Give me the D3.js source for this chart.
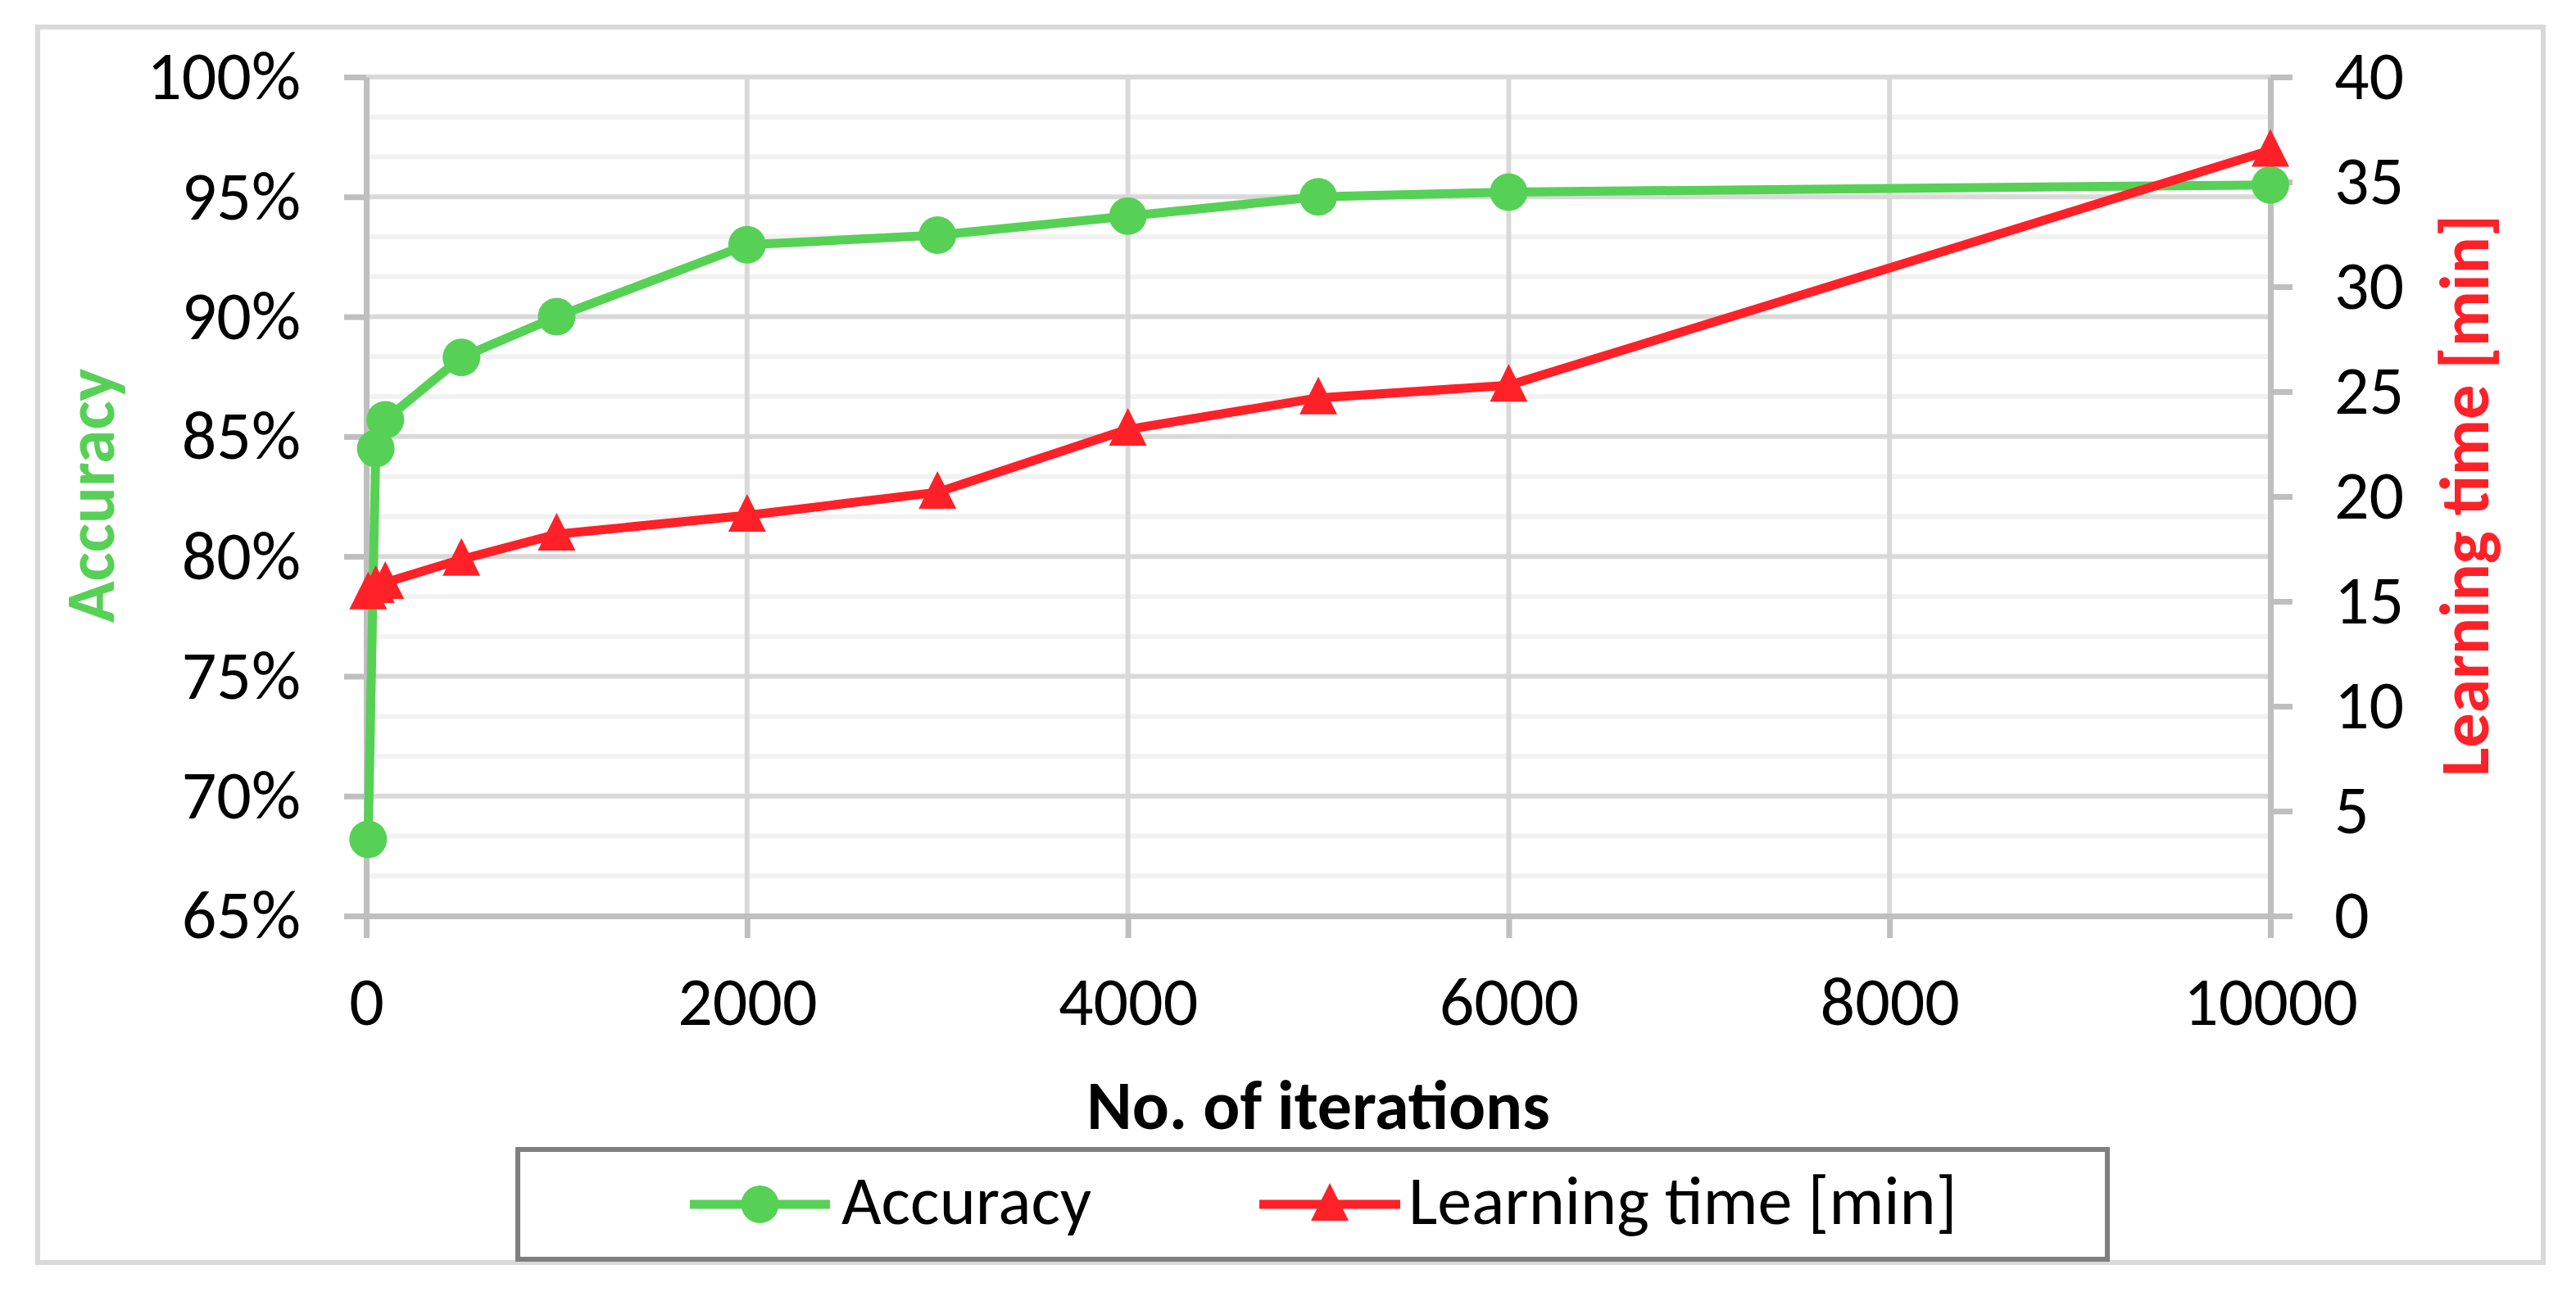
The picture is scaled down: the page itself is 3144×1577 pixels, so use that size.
<!DOCTYPE html>
<html>
<head>
<meta charset="utf-8">
<script src="https://cdnjs.cloudflare.com/ajax/libs/d3/7.8.5/d3.min.js"></script>
<style>
body { margin: 0; background: #fff; }
svg { display: block; font-family: Carlito, "Liberation Sans Narrow", sans-serif; }
.grid-major { stroke: #d9d9d9; stroke-width: 6; }
.grid-minor { stroke: #f2f2f2; stroke-width: 6; }
.axis path, .axis line { stroke: #bfbfbf; stroke-width: 7; }
.axis text { fill: #000; font-size: 84px; font-family: Carlito, "Liberation Sans Narrow", sans-serif; }
</style>
</head>
<body>
<svg id="chart" width="3144" height="1577"></svg>
<script>
// data
var iterations   = [10, 50, 100, 500, 1000, 2000, 3000, 4000, 5000, 6000, 10000];
var accuracy     = [0.682, 0.845, 0.857, 0.883, 0.900, 0.930, 0.934, 0.942, 0.950, 0.952, 0.955];
var learningTime = [15.4, 15.7, 15.9, 17.0, 18.2, 19.1, 20.2, 23.2, 24.7, 25.3, 36.5];

var xTicks = [0, 2000, 4000, 6000, 8000, 10000];
var accTicks = [0.65, 0.70, 0.75, 0.80, 0.85, 0.90, 0.95, 1.00];
var timeTicks = [0, 5, 10, 15, 20, 25, 30, 35, 40];

var green = "#56d156", red = "#ff2128";

var svg = d3.select("#chart");
var plotL = 447, plotR = 2771, plotT = 94, plotB = 1118;

var x = d3.scaleLinear().domain([0, 10000]).range([plotL, plotR]);
var yL = d3.scaleLinear().domain([0.65, 1.0]).range([plotB, plotT]);
var yR = d3.scaleLinear().domain([0, 40]).range([plotB, plotT]);

// outer chart border
svg.append("rect")
    .attr("x", 46).attr("y", 33).attr("width", 3058).attr("height", 1508)
    .attr("fill", "none").attr("stroke", "#d9d9d9").attr("stroke-width", 6);

// horizontal gridlines (minor every 5/3 %, major every 5 %)
var minorVals = d3.range(0, 22).filter(function(i) { return i % 3 != 0; })
    .map(function(i) { return 0.65 + i * 0.35 / 21; });
svg.append("g").selectAll("line").data(minorVals).enter().append("line")
    .attr("class", "grid-minor")
    .attr("x1", plotL).attr("x2", plotR)
    .attr("y1", function(d) { return yL(d); }).attr("y2", function(d) { return yL(d); });
svg.append("g").selectAll("line").data(accTicks).enter().append("line")
    .attr("class", "grid-major")
    .attr("x1", plotL).attr("x2", plotR)
    .attr("y1", function(d) { return yL(d); }).attr("y2", function(d) { return yL(d); });
svg.append("g").selectAll("line").data(xTicks.slice(1, -1)).enter().append("line")
    .attr("class", "grid-major")
    .attr("x1", function(d) { return x(d); }).attr("x2", function(d) { return x(d); })
    .attr("y1", plotT).attr("y2", plotB);

// axes
var gL = svg.append("g").attr("class", "axis").attr("transform", "translate(" + plotL + ",0)")
    .call(d3.axisLeft(yL).tickValues(accTicks).tickFormat(d3.format(".0%")).tickSize(27).tickSizeOuter(0).tickPadding(53));
gL.selectAll("text").attr("dy", "0.32em");

var gR = svg.append("g").attr("class", "axis").attr("transform", "translate(" + plotR + ",0)")
    .call(d3.axisRight(yR).tickValues(timeTicks).tickSize(27).tickSizeOuter(0).tickPadding(51));
gR.selectAll("text").attr("dy", "0.32em");

var gX = svg.append("g").attr("class", "axis").attr("transform", "translate(0," + plotB + ")")
    .call(d3.axisBottom(x).tickValues(xTicks).tickFormat(d3.format("d")).tickSize(27).tickSizeOuter(0).tickPadding(46));

// axis titles
svg.append("text")
    .attr("transform", "translate(139,605) rotate(-90)")
    .attr("text-anchor", "middle")
    .style("font-size", "84px").style("font-weight", "bold").style("fill", green)
    .text("Accuracy");
svg.append("text")
    .attr("transform", "translate(3037,605) rotate(-90)")
    .attr("text-anchor", "middle")
    .style("font-size", "84px").style("font-weight", "bold").style("fill", red)
    .text("Learning time [min]");
svg.append("text")
    .attr("x", (plotL + plotR) / 2).attr("y", 1378)
    .attr("text-anchor", "middle")
    .style("font-size", "84px").style("font-weight", "bold").style("fill", "#000")
    .text("No. of iterations");

// series
var accData = iterations.map(function(d, i) { return [d, accuracy[i]]; });
var timeData = iterations.map(function(d, i) { return [d, learningTime[i]]; });

var lineAcc = d3.line().x(function(d) { return x(d[0]); }).y(function(d) { return yL(d[1]); });
var lineTime = d3.line().x(function(d) { return x(d[0]); }).y(function(d) { return yR(d[1]); });

var triPath = "M0,-26L23,20L-23,20Z";

svg.append("path").datum(accData).attr("d", lineAcc)
    .attr("fill", "none").attr("stroke", green).attr("stroke-width", 11).attr("stroke-linejoin", "round");
svg.append("g").selectAll("circle").data(accData).enter().append("circle")
    .attr("cx", function(d) { return x(d[0]); }).attr("cy", function(d) { return yL(d[1]); })
    .attr("r", 23).attr("fill", green);

svg.append("path").datum(timeData).attr("d", lineTime)
    .attr("fill", "none").attr("stroke", red).attr("stroke-width", 11).attr("stroke-linejoin", "round");
svg.append("g").selectAll("path").data(timeData).enter().append("path")
    .attr("d", triPath)
    .attr("transform", function(d) { return "translate(" + x(d[0]) + "," + yR(d[1]) + ")"; })
    .attr("fill", red);

// legend
var legend = svg.append("g");
legend.append("rect")
    .attr("x", 632).attr("y", 1403).attr("width", 1940).attr("height", 134)
    .attr("fill", "#fff").attr("stroke", "#7f7f7f").attr("stroke-width", 6);
var items = [
  {name: "Accuracy", color: green, x1: 842, x2: 1013, tx: 1027, mark: "circle"},
  {name: "Learning time [min]", color: red, x1: 1537, x2: 1709, tx: 1719, mark: "tri"}
];
var li = legend.selectAll("g.item").data(items).enter().append("g").attr("class", "item");
li.append("line")
    .attr("x1", function(d) { return d.x1; }).attr("x2", function(d) { return d.x2; })
    .attr("y1", 1470).attr("y2", 1470)
    .attr("stroke", function(d) { return d.color; }).attr("stroke-width", 11);
li.each(function(d) {
  var g = d3.select(this), cx = (d.x1 + d.x2) / 2;
  if (d.mark == "circle") {
    g.append("circle").attr("cx", cx).attr("cy", 1470).attr("r", 23).attr("fill", d.color);
  } else {
    g.append("path").attr("d", triPath)
      .attr("transform", "translate(" + cx + ",1470)").attr("fill", d.color);
  }
});
li.append("text")
    .attr("x", function(d) { return d.tx; }).attr("y", 1494)
    .style("font-size", "84px").style("fill", "#000")
    .text(function(d) { return d.name; });
</script>
</body>
</html>
